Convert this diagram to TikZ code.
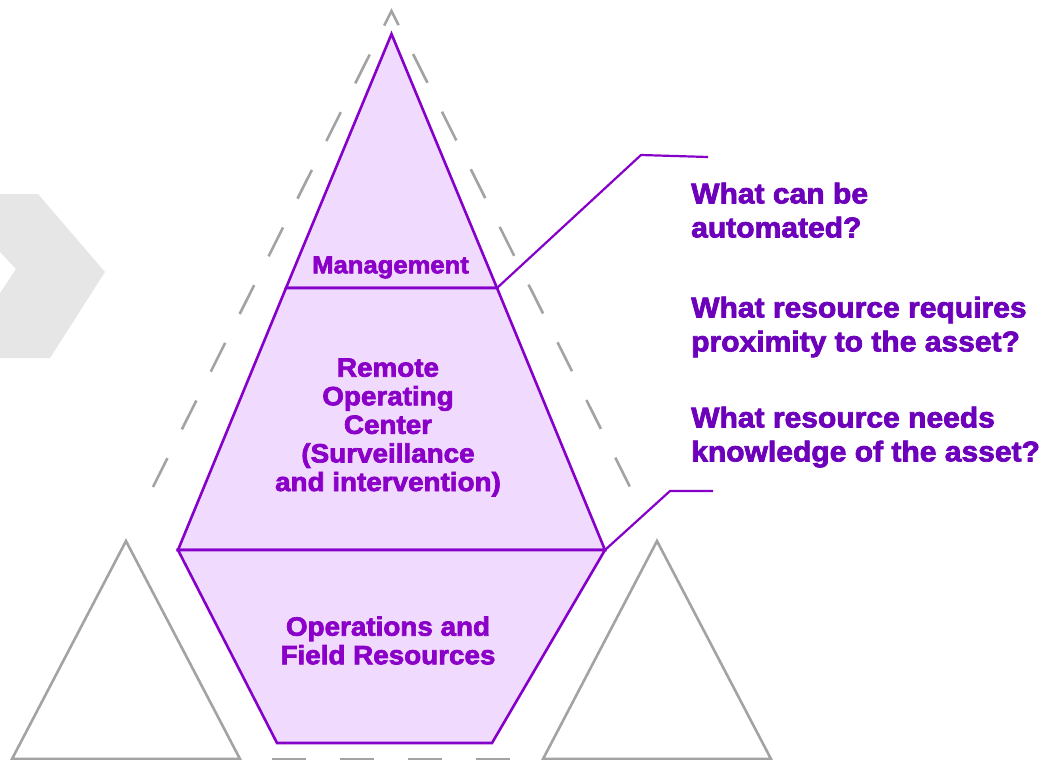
\documentclass[tikz,border=0pt]{standalone}
\usepackage{fontspec}
\setmainfont{Liberation Sans}[BoldFeatures={FakeBold=2.6,FakeStretch=1.05}]
\definecolor{pstroke}{HTML}{8500C9}
\definecolor{pfill}{HTML}{F0DAFD}
\definecolor{ptextA}{HTML}{8A00C8}
\definecolor{ptextB}{HTML}{6C00BB}
\definecolor{gline}{HTML}{A3A3A3}
\definecolor{gfill}{HTML}{E6E6E6}
\tikzset{
  tier/.style={draw=pstroke,fill=pfill,line width=2.6pt,line join=miter},
  ghost/.style={draw=gline,line width=2.6pt,line join=miter},
  leader/.style={draw=pstroke,line width=2.2pt,line join=round},
  tierlabel/.style={text=ptextA,align=center,font=\fontsize{26.5}{28.6}\selectfont\bfseries,inner sep=0pt},
  smalltier/.style={tierlabel,font=\fontsize{24.4}{28.6}\selectfont\bfseries},
  question/.style={text=ptextB,align=left,anchor=north west,font=\fontsize{28.6}{34}\selectfont\bfseries,inner sep=0pt},
}
\begin{document}
\begin{tikzpicture}[x=1pt,y=-1pt]
\useasboundingbox (0,0) rectangle (1047,760);
% chevron
\fill[gfill] (0,194) -- (38,194) -- (105,272) -- (50,358) -- (0,358) -- (0,293) -- (16,269) -- (0,252) -- cycle;
% ghost triangles
\draw[ghost,dash pattern=on 32.25pt off 32.25pt] (153,487) -- (391.5,11) -- (630,487);
\draw[ghost,dash pattern=on 34pt off 34pt] (272,759) -- (511,759);
\draw[ghost] (126,541) -- (240,759) -- (12,759) -- cycle;
\draw[ghost] (657,541) -- (771,759) -- (543,759) -- cycle;
% pyramid
\coordinate (apex) at (391.5,34);
\coordinate (ml) at (286,288);
\coordinate (mr) at (497,288);
\coordinate (bl) at (178,550);
\coordinate (br) at (605,550);
\coordinate (fl) at (277,743);
\coordinate (fr) at (492,743);
\draw[tier] (apex) -- (mr) -- (ml) -- cycle;
\draw[tier] (ml) -- (mr) -- (br) -- (bl) -- cycle;
\draw[tier] (bl) -- (br) -- (fr) -- (fl) -- cycle;
% leaders
\coordinate (e1) at (641,155);
\coordinate (e2) at (708,157);
\coordinate (e3) at (670,491);
\coordinate (e4) at (713,491);
\draw[leader] (mr) -- (e1) -- (e2);
\draw[leader] (br) -- (e3) -- (e4);
% labels
\node[smalltier] (mgmt) at (390.5,267.5) {Management};
\node[tierlabel] (roc) at (388,427.5) {Remote\\Operating\\Center\\(Surveillance\\and intervention)};
\node[tierlabel] (ops) at (388,640.5) {Operations and\\Field Resources};
\node[question] (q1) at (691,182.5) {What can be\\automated?};
\node[question] (q2) at (691,296.5) {What resource requires\\proximity to the asset?};
\node[question] (q3) at (691,406.5) {What resource needs\\knowledge of the asset?};
\end{tikzpicture}
\end{document}
